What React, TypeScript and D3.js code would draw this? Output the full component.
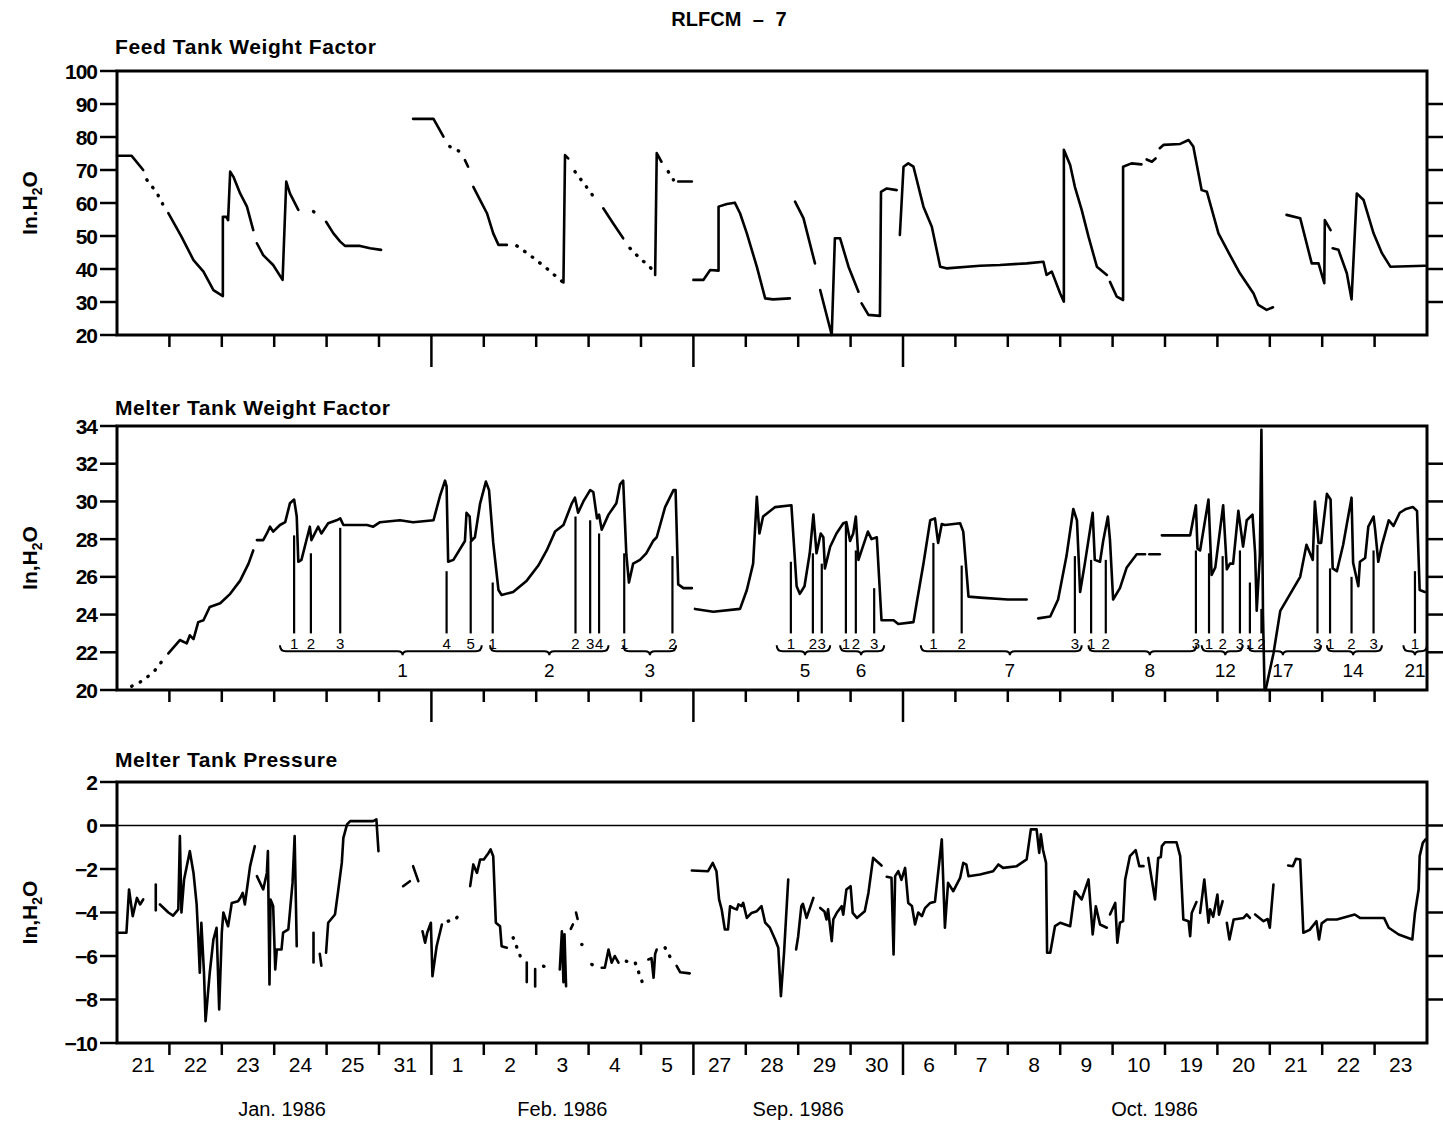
import React, { useEffect, useRef } from "react";
import * as d3 from "d3";

type Pt = [number, number];

const dayLabels = ["21", "22", "23", "24", "25", "31", "1", "2", "3", "4", "5", "27", "28", "29", "30", "6", "7", "8", "9", "10", "19", "20", "21", "22", "23"];
const monthLabels = ["Jan. 1986", "Feb. 1986", "Sep. 1986", "Oct. 1986"];
const monthCenters = [3.15, 8.5, 13.0, 19.8];
const monthBreaks = [6, 11, 15];

// Feed tank weight factor (in. H2O), x in day slots
const feedSolid: Pt[][] = [
  [[0, 74.3], [0.28, 74.3], [0.5, 70]],
  [[0.98, 56.9], [1.23, 49.8], [1.46, 42.7], [1.65, 39.2], [1.84, 33.6], [2.02, 31.8], [2.02, 55.8], [2.09, 55.8], [2.12, 54.8], [2.16, 69.5], [2.22, 68], [2.35, 62.9], [2.48, 58.9], [2.6, 51.8]],
  [[2.67, 47.8], [2.79, 44.2], [2.98, 41.2], [3.16, 36.7], [3.23, 66.5], [3.3, 62.9], [3.46, 57.9]],
  [[3.99, 54.3], [4.13, 50.8], [4.26, 48.3], [4.35, 47], [4.64, 47], [4.83, 46.3], [5.04, 45.8]],
  [[5.65, 85.5], [6.04, 85.5], [6.23, 80.1]],
  [[6.64, 73], [6.7, 71]],
  [[6.8, 64.9], [6.93, 60.9], [7.06, 56.9], [7.18, 50.8], [7.28, 47.3], [7.44, 47.3]],
  [[8.52, 35.9], [8.55, 74.5], [8.61, 73.5]],
  [[9.28, 58.4], [9.47, 53.8], [9.66, 49.3]],
  [[10.27, 38.2], [10.3, 75.1], [10.39, 72.5]],
  [[10.71, 66.5], [10.97, 66.5]],
  [[11.0, 36.7], [11.19, 36.7], [11.32, 39.7], [11.48, 39.5], [11.48, 58.9], [11.64, 59.7], [11.79, 60.1], [11.89, 56.9], [12.02, 50.8], [12.21, 40.7], [12.37, 31.1], [12.52, 30.8], [12.84, 31.1]],
  [[12.94, 60.4], [13.1, 55.4], [13.32, 41.7]],
  [[13.42, 33.6], [13.64, 20], [13.7, 49.3], [13.8, 49.3], [13.96, 40.7], [14.15, 33.1]],
  [[14.21, 29.6], [14.34, 26.1], [14.56, 25.8], [14.58, 63.4], [14.69, 64.4], [14.88, 63.9]],
  [[14.94, 50.3], [15.01, 71], [15.1, 72], [15.2, 71], [15.39, 58.9], [15.55, 52.8], [15.71, 40.7], [15.83, 40.2], [16.47, 41], [16.85, 41.2], [17.36, 41.7], [17.68, 42.2], [17.74, 38.2], [17.84, 39.2], [18.0, 32.6], [18.07, 30.1], [18.07, 76.1], [18.19, 71.5], [18.28, 64.9], [18.41, 57.9], [18.54, 49.8], [18.7, 40.7], [18.89, 38.2]],
  [[18.95, 36.1], [19.08, 31.6], [19.2, 30.6], [19.2, 71], [19.36, 72], [19.55, 71.7]],
  [[19.65, 73.2], [19.75, 72.5], [19.82, 73.5]],
  [[19.9, 76.6], [19.97, 77.6], [20.29, 77.9], [20.45, 79.1], [20.54, 77.1], [20.7, 63.9], [20.8, 63.4], [21.02, 50.8], [21.24, 44.2], [21.43, 38.7], [21.69, 32.6], [21.78, 29.1], [21.94, 27.6], [22.06, 28.4]],
  [[22.32, 56.4], [22.58, 55.4], [22.8, 41.7], [22.93, 41.7], [23.04, 35.7], [23.05, 54.8], [23.16, 51.8]],
  [[23.2, 46.3], [23.31, 45.8], [23.47, 38.7], [23.56, 30.8], [23.66, 62.9], [23.79, 60.9], [23.98, 50.8], [24.14, 44.8], [24.3, 40.7], [24.96, 41]],
];
const feedDotted: Pt[][] = [
  [[0.57, 67], [0.76, 63.1], [0.88, 59.4]],
  [[3.75, 57.4], [3.87, 56.1]],
  [[6.35, 77.1], [6.55, 75.5]],
  [[7.63, 47], [7.88, 44.2], [8.04, 42.2], [8.2, 40.2], [8.42, 37.2], [8.52, 35.9]],
  [[8.74, 69.5], [8.93, 65.5], [9.12, 61.4]],
  [[9.79, 46.3], [9.98, 43.2], [10.17, 40.7], [10.27, 38.2]],
  [[10.52, 69.5], [10.62, 67]],
];

// Melter tank weight factor
const melterSolid: Pt[][] = [
  [[0.98, 21.94], [1.2, 22.65], [1.33, 22.47], [1.39, 22.9], [1.46, 22.7], [1.55, 23.6], [1.65, 23.7], [1.77, 24.4], [1.97, 24.6], [2.16, 25.1], [2.35, 25.8], [2.51, 26.7], [2.6, 27.4]],
  [[2.67, 27.95], [2.79, 27.95], [2.86, 28.3], [2.92, 28.66], [2.98, 28.4], [3.11, 28.75], [3.21, 28.9], [3.3, 29.9], [3.38, 30.1], [3.43, 29.2], [3.46, 26.8], [3.52, 26.9], [3.68, 28.66], [3.71, 27.95], [3.84, 28.66], [3.9, 28.3], [4.03, 28.84], [4.19, 29.0], [4.26, 29.1], [4.32, 28.75], [4.77, 28.75], [4.89, 28.66], [5.02, 28.9], [5.4, 29.0], [5.65, 28.9], [6.04, 29.0], [6.16, 30.25], [6.26, 31.1], [6.29, 30.8], [6.32, 26.8], [6.42, 26.9], [6.64, 27.9], [6.67, 29.4], [6.73, 29.2], [6.76, 27.9], [6.83, 28.1], [6.93, 29.9], [7.04, 31.05], [7.1, 30.6], [7.18, 27.8], [7.28, 25.3], [7.34, 25.04], [7.56, 25.2], [7.82, 25.8], [8.04, 26.6], [8.2, 27.4], [8.36, 28.4], [8.52, 28.75], [8.68, 29.9], [8.74, 30.2], [8.8, 29.4], [8.9, 30.0], [9.03, 30.6], [9.09, 30.5], [9.16, 29.1], [9.2, 29.3], [9.25, 28.5], [9.38, 29.3], [9.53, 29.9], [9.6, 30.9], [9.66, 31.1], [9.72, 27.2], [9.77, 25.7], [9.85, 26.7], [9.98, 26.9], [10.1, 27.25], [10.23, 27.9], [10.3, 28.1], [10.46, 29.7], [10.62, 30.6], [10.66, 30.6], [10.71, 25.6], [10.81, 25.4], [10.97, 25.4]],
  [[11.03, 24.3], [11.38, 24.15], [11.89, 24.3], [12.02, 25.3], [12.14, 26.7], [12.21, 30.25], [12.26, 28.3], [12.33, 29.2], [12.56, 29.7], [12.87, 29.8], [12.97, 25.5], [13.03, 25.1], [13.12, 25.5], [13.22, 27.25], [13.29, 29.3], [13.35, 27.25], [13.43, 28.3], [13.48, 28.1], [13.51, 26.45], [13.61, 27.6], [13.73, 28.3], [13.86, 28.84], [13.92, 28.9], [13.99, 27.9], [14.05, 28.3], [14.1, 29.2], [14.15, 26.9], [14.21, 27.4], [14.33, 28.4], [14.4, 28.0], [14.5, 28.1], [14.59, 23.7], [14.82, 23.7], [14.91, 23.5], [15.2, 23.6], [15.26, 24.6], [15.39, 26.7], [15.52, 29.0], [15.61, 29.1], [15.67, 27.8], [15.74, 28.8], [15.8, 28.75], [16.09, 28.84], [16.15, 28.4], [16.25, 24.95], [16.47, 24.9], [17.0, 24.8], [17.36, 24.8]],
  [[17.58, 23.8], [17.81, 23.9], [17.96, 24.8], [18.12, 27.1], [18.25, 29.6], [18.32, 29.0], [18.38, 25.2], [18.47, 26.7], [18.62, 29.4], [18.66, 26.9], [18.76, 26.8], [18.82, 27.9], [18.91, 29.2], [18.95, 27.95], [19.01, 24.8], [19.14, 25.4], [19.27, 26.5], [19.46, 27.2], [19.62, 27.2]],
  [[19.7, 27.2], [19.9, 27.2]],
  [[19.94, 28.2], [20.48, 28.2], [20.59, 29.8], [20.62, 27.5], [20.67, 27.4], [20.83, 30.1], [20.89, 26.1], [20.96, 26.5], [21.11, 29.8], [21.16, 27.4], [21.18, 26.4], [21.24, 26.7], [21.3, 26.7], [21.4, 29.5], [21.49, 27.6], [21.56, 29.0], [21.67, 29.3], [21.72, 27.25], [21.75, 24.2], [21.81, 27.1], [21.84, 33.8], [21.87, 24.0], [21.9, 20.0]],
  [[21.92, 20.0], [22.07, 21.94], [22.2, 24.2], [22.39, 25.1], [22.58, 26.0], [22.7, 27.7], [22.82, 26.9], [22.86, 30.0], [22.93, 27.8], [22.98, 27.8], [23.09, 30.4], [23.16, 30.1], [23.2, 26.45], [23.28, 26.3], [23.4, 27.7], [23.56, 30.2], [23.59, 26.75], [23.69, 25.5], [23.72, 26.8], [23.82, 27.0], [23.88, 28.66], [23.98, 29.2], [24.01, 28.5], [24.07, 26.8], [24.14, 27.7], [24.27, 29.0], [24.36, 28.7], [24.48, 29.4], [24.6, 29.6], [24.73, 29.7], [24.81, 29.5], [24.86, 25.3], [24.96, 25.2]],
];
const melterDotted: Pt[][] = [
  [[0.28, 20.2], [0.5, 20.5], [0.73, 21.06], [0.88, 21.6]],
];

// addition markers: [day, top value, label]
const markers: [number, number, string][] = [
  [3.38, 28.2, "1"], [3.7, 27.25, "2"], [4.26, 28.6, "3"], [6.29, 26.3, "4"], [6.75, 27.9, "5"],
  [7.17, 25.7, "1"], [8.75, 29.2, "2"], [9.03, 29.0, "3"], [9.2, 28.3, "4"],
  [9.68, 27.25, "1"], [10.6, 27.1, "2"],
  [12.86, 26.8, "1"], [13.28, 27.25, "2"], [13.45, 26.7, "3"],
  [13.91, 28.9, "1"], [14.1, 27.4, "2"], [14.45, 25.4, "3"],
  [15.58, 27.8, "1"], [16.12, 26.6, "2"], [18.28, 27.1, "3"],
  [18.59, 26.9, "1"], [18.87, 26.9, "2"], [20.59, 27.4, "3"],
  [20.84, 27.25, "1"], [21.1, 27.1, "2"], [21.43, 27.4, "3"],
  [21.62, 25.7, "1"], [21.84, 24.3, "2"], [22.91, 27.7, "3"],
  [23.15, 26.45, "1"], [23.56, 26.0, "2"], [23.98, 27.4, "3"],
  [24.77, 26.3, "1"],
];
// groups: [from, to, middle, label]
const groups: [number, number, number, string][] = [
  [3.11, 6.96, 5.45, "1"], [7.12, 9.38, 8.25, "2"], [9.66, 10.67, 10.17, "3"],
  [12.59, 13.61, 13.13, "5"], [13.8, 14.64, 14.2, "6"], [15.34, 18.41, 17.04, "7"],
  [18.54, 20.6, 19.71, "8"], [20.7, 21.48, 21.15, "12"], [21.59, 22.98, 22.25, "17"],
  [23.09, 24.14, 23.59, "14"], [24.55, 25.0, 24.77, "21"],
];

// Melter tank pressure
const pressureSolid: Pt[][] = [
  [[0, -4.93], [0.18, -4.93], [0.23, -2.94], [0.3, -4.17], [0.38, -3.33], [0.44, -3.63], [0.5, -3.4]],
  [[0.74, -2.71], [0.74, -3.9]],
  [[0.82, -3.63], [0.98, -4.0], [1.07, -4.14], [1.17, -3.86], [1.2, -0.49], [1.23, -4.0], [1.28, -2.48], [1.39, -1.18], [1.46, -2.18], [1.52, -3.63], [1.55, -5.09], [1.58, -6.77], [1.61, -4.47], [1.66, -6.77], [1.69, -9.0], [1.77, -6.77], [1.84, -5.24], [1.9, -4.7], [1.95, -8.46], [2.0, -4.93], [2.03, -4.0], [2.12, -4.63], [2.19, -3.56], [2.31, -3.48], [2.36, -3.3], [2.4, -3.1], [2.44, -3.63], [2.54, -1.87], [2.63, -0.95]],
  [[2.67, -2.33], [2.79, -2.94], [2.86, -2.18], [2.88, -1.18], [2.91, -7.31], [2.93, -3.4], [2.98, -3.7], [3.02, -6.62], [3.05, -5.7], [3.14, -5.7], [3.17, -4.93], [3.27, -4.78], [3.35, -2.64], [3.39, -0.49], [3.43, -5.55]],
  [[3.75, -4.93], [3.75, -6.3]],
  [[3.87, -5.9], [3.9, -6.45]],
  [[3.99, -5.85], [4.03, -4.47], [4.16, -4.09], [4.22, -3.02], [4.29, -1.72], [4.32, -0.57], [4.39, 0.05], [4.45, 0.2], [4.89, 0.2], [4.95, 0.28], [4.99, -1.18]],
  [[5.46, -2.79], [5.59, -2.56]],
  [[5.65, -1.87], [5.75, -2.56]],
  [[5.83, -4.86], [5.88, -5.39], [5.92, -4.93], [5.99, -4.47], [6.02, -6.93], [6.1, -5.55], [6.2, -4.55]],
  [[6.74, -2.79], [6.8, -1.79], [6.87, -2.18], [6.93, -1.56], [7.0, -1.56], [7.09, -1.26], [7.13, -1.1], [7.18, -1.41], [7.23, -4.47], [7.31, -4.63], [7.34, -5.55], [7.44, -5.62]],
  [[7.82, -6.3], [7.82, -7.2]],
  [[7.98, -6.6], [7.98, -7.4]],
  [[8.45, -6.62], [8.49, -4.86], [8.52, -7.2], [8.54, -5.0], [8.57, -7.39]],
  [[8.66, -4.75], [8.7, -4.55]],
  [[8.76, -4.0], [8.79, -4.3]],
  [[9.25, -6.54], [9.31, -6.54], [9.38, -5.7], [9.44, -6.31], [9.5, -6.0], [9.57, -6.31]],
  [[10.14, -6.16], [10.2, -6.1], [10.24, -7.0], [10.27, -5.9], [10.3, -5.7]],
  [[10.68, -6.45], [10.75, -6.75], [10.93, -6.8]],
  [[10.97, -2.07], [11.28, -2.1], [11.37, -1.72], [11.44, -2.1], [11.49, -3.4], [11.54, -3.86], [11.6, -4.78], [11.66, -4.78], [11.7, -3.71], [11.76, -3.8], [11.83, -3.86], [11.86, -3.63], [11.92, -3.71], [11.95, -3.56], [12.02, -4.25], [12.11, -4.02], [12.21, -3.94], [12.3, -3.71], [12.37, -4.47], [12.46, -4.7], [12.56, -5.24], [12.62, -5.62], [12.67, -7.85], [12.73, -5.85], [12.81, -2.48]],
  [[12.96, -5.7], [13.0, -5.09], [13.06, -3.71], [13.09, -3.6], [13.16, -4.25], [13.29, -3.33]],
  [[13.42, -3.79], [13.5, -3.95], [13.54, -4.32], [13.57, -3.85], [13.64, -5.32], [13.67, -4.32], [13.74, -4.0], [13.83, -3.71], [13.86, -4.1], [13.92, -2.94], [14.0, -2.79], [14.04, -4.02], [14.12, -4.25], [14.27, -3.94], [14.34, -3.1], [14.43, -1.49], [14.5, -1.64], [14.59, -1.84]],
  [[14.69, -2.36], [14.78, -2.4], [14.82, -5.93], [14.85, -2.33], [14.91, -2.1], [14.97, -2.5], [15.04, -1.95], [15.1, -3.56], [15.17, -3.7], [15.23, -4.55], [15.29, -4.0], [15.36, -4.17], [15.42, -3.8], [15.52, -3.56], [15.61, -3.5], [15.74, -0.64], [15.8, -4.7], [15.86, -2.64], [15.96, -3.02], [16.09, -2.41], [16.15, -1.72], [16.21, -1.8], [16.25, -2.33], [16.47, -2.25], [16.72, -2.1], [16.82, -1.79], [16.91, -1.95], [17.17, -1.87], [17.36, -1.56], [17.44, -0.18], [17.55, -0.18], [17.6, -1.26], [17.63, -0.4], [17.67, -1.1], [17.73, -1.72], [17.75, -5.85], [17.81, -5.85], [17.9, -4.63], [18.0, -4.47], [18.19, -4.63], [18.28, -3.02], [18.41, -3.4], [18.54, -2.48], [18.62, -5.01], [18.68, -3.71], [18.76, -4.55], [18.89, -4.7]],
  [[18.95, -4.09], [19.05, -3.56], [19.09, -5.39], [19.14, -4.47], [19.2, -4.4], [19.24, -2.48], [19.33, -1.41], [19.44, -1.13], [19.51, -1.87], [19.59, -1.87]],
  [[19.68, -1.49], [19.81, -3.4], [19.87, -1.49], [19.92, -1.45], [19.94, -0.95], [20.0, -0.77], [20.22, -0.77], [20.29, -1.41], [20.35, -4.32], [20.45, -4.4], [20.48, -5.09], [20.51, -4.02], [20.6, -3.52]],
  [[20.67, -4.02], [20.75, -2.48], [20.83, -4.47], [20.86, -3.85], [20.92, -4.2], [21.0, -3.17], [21.03, -4.1], [21.1, -3.48]],
  [[21.18, -4.47], [21.23, -5.24], [21.31, -4.32], [21.5, -4.25], [21.56, -4.09], [21.62, -4.25]],
  [[21.72, -4.09], [21.88, -4.4], [21.96, -4.3], [22.0, -4.7], [22.07, -2.71]],
  [[22.35, -1.84], [22.44, -1.87], [22.5, -1.53], [22.58, -1.56], [22.64, -4.93], [22.76, -4.8], [22.89, -4.4], [22.94, -5.24], [22.99, -4.5], [23.09, -4.32], [23.28, -4.32], [23.62, -4.09], [23.72, -4.25], [24.18, -4.25], [24.27, -4.7], [24.46, -5.01], [24.72, -5.24], [24.77, -4.02], [24.84, -2.94], [24.86, -1.41], [24.92, -0.8], [24.97, -0.64]],
];
const pressureDotted: Pt[][] = [
  [[6.32, -4.4], [6.45, -4.32], [6.58, -4.0]],
  [[7.56, -5.16], [7.72, -6.16]],
  [[8.14, -6.47], [8.3, -6.54]],
  [[8.87, -5.47]],
  [[9.06, -6.39], [9.22, -6.54]],
  [[9.72, -6.24], [9.89, -6.31], [10.04, -7.31]],
  [[10.46, -5.62], [10.58, -6.16]],
];

const FONT = "'Liberation Sans', Arial, Helvetica, sans-serif";

export default function App() {
  const ref = useRef<SVGSVGElement>(null);

  useEffect(() => {
    const svg = d3.select(ref.current);
    svg.selectAll("*").remove();

    const x = d3.scaleLinear().domain([0, 25]).range([117, 1427]);
    const left = x(0), right = x(25);

    const panels = [
      { title: "Feed Tank Weight Factor", sep: ".", domain: [20, 100], range: [335, 71], step: 10, solid: feedSolid, dotted: feedDotted, titleY: 54 },
      { title: "Melter Tank Weight Factor", sep: ",", domain: [20, 34], range: [690, 426], step: 2, solid: melterSolid, dotted: melterDotted, titleY: 415 },
      { title: "Melter Tank Pressure", sep: ",", domain: [-10, 2], range: [1043, 782], step: 2, solid: pressureSolid, dotted: pressureDotted, titleY: 767 },
    ];

    svg.append("text")
      .attr("x", 729).attr("y", 26)
      .attr("text-anchor", "middle")
      .attr("font-family", FONT).attr("font-weight", "bold").attr("font-size", 20)
      .attr("word-spacing", 6)
      .text("RLFCM \u2013 7");

    panels.forEach((p, pi) => {
      const y = d3.scaleLinear().domain(p.domain).range(p.range);
      const g = svg.append("g");
      const top = p.range[1], bottom = p.range[0];

      g.append("text")
        .attr("x", 115).attr("y", p.titleY)
        .attr("font-family", FONT).attr("font-weight", "bold").attr("font-size", 21)
        .attr("letter-spacing", 0.6)
        .text(p.title);

      // y title
      const yt = g.append("text")
        .attr("transform", `translate(37, ${(top + bottom) / 2}) rotate(-90)`)
        .attr("text-anchor", "middle")
        .attr("font-family", FONT).attr("font-weight", "bold").attr("font-size", 21);
      yt.append("tspan").text(`In${p.sep}H`);
      yt.append("tspan").attr("font-size", 14).attr("dy", 5).text("2");
      yt.append("tspan").attr("dy", -5).text("O");

      // zero line for pressure
      if (pi === 2) {
        g.append("line")
          .attr("x1", left).attr("x2", right)
          .attr("y1", y(0)).attr("y2", y(0))
          .attr("stroke", "#000").attr("stroke-width", 1.6);
      }

      // frame
      g.append("rect")
        .attr("x", left).attr("y", top)
        .attr("width", right - left).attr("height", bottom - top)
        .attr("fill", "none").attr("stroke", "#000").attr("stroke-width", 3);

      const ticks = d3.range(p.domain[0], p.domain[1] + 0.001, p.step);
      g.selectAll(".ltick").data(ticks).join("line")
        .attr("x1", left - 17).attr("x2", left)
        .attr("y1", (d) => y(d)).attr("y2", (d) => y(d))
        .attr("stroke", "#000").attr("stroke-width", 2.5);
      g.selectAll(".rtick").data(ticks.slice(1, -1)).join("line")
        .attr("x1", right).attr("x2", right + 16)
        .attr("y1", (d) => y(d)).attr("y2", (d) => y(d))
        .attr("stroke", "#000").attr("stroke-width", 2.5);
      g.selectAll(".tlabel").data(ticks).join("text")
        .attr("x", 97).attr("y", (d) => y(d)).attr("dy", "0.36em")
        .attr("text-anchor", "end")
        .attr("font-family", FONT).attr("font-weight", "bold").attr("font-size", 21)
        .attr("letter-spacing", -1)
        .text((d) => (d < 0 ? "\u2212" + Math.abs(d) : String(d)));

      // bottom ticks
      const xt = d3.range(1, 25);
      g.selectAll(".xtick").data(xt).join("line")
        .attr("x1", (d) => x(d)).attr("x2", (d) => x(d))
        .attr("y1", bottom).attr("y2", (d) => bottom + (monthBreaks.includes(d) ? 32 : 12))
        .attr("stroke", "#000").attr("stroke-width", 2.5);

      const line = d3.line<Pt>().x((d) => x(d[0])).y((d) => y(d[1]));
      g.selectAll(".solid").data(p.solid).join("path")
        .attr("d", (d) => line(d))
        .attr("fill", "none").attr("stroke", "#000").attr("stroke-width", 2.6)
        .attr("stroke-linejoin", "round").attr("stroke-linecap", "round");
      g.selectAll(".dotted").data(p.dotted).join("path")
        .attr("d", (d) => (d.length === 1 ? `M${x(d[0][0])},${y(d[0][1])}l0.1,0` : line(d)))
        .attr("fill", "none").attr("stroke", "#000").attr("stroke-width", 3.4)
        .attr("stroke-dasharray", "0.5 9").attr("stroke-linecap", "round");

      if (pi === 1) {
        const base = y(23.0);
        g.selectAll(".marker").data(markers).join("line")
          .attr("x1", (d) => x(d[0])).attr("x2", (d) => x(d[0]))
          .attr("y1", (d) => y(d[1])).attr("y2", base)
          .attr("stroke", "#000").attr("stroke-width", 2.2);
        g.selectAll(".mlabel").data(markers).join("text")
          .attr("x", (d) => x(d[0])).attr("y", base + 16)
          .attr("text-anchor", "middle")
          .attr("font-family", FONT).attr("font-size", 15)
          .text((d) => d[2]);
        const by = y(22.05);
        g.selectAll(".brace").data(groups).join("path")
          .attr("d", (d) => {
            const a = x(d[0]), b = Math.min(x(d[1]), right), m = x(d[2]);
            return `M${a},${by - 6} Q${a},${by} ${a + 6},${by} L${m - 5},${by} Q${m},${by} ${m},${by + 4} Q${m},${by} ${m + 5},${by} L${b - 6},${by} Q${b},${by} ${b},${by - 6}`;
          })
          .attr("fill", "none").attr("stroke", "#000").attr("stroke-width", 2);
        g.selectAll(".glabel").data(groups).join("text")
          .attr("x", (d) => x(d[2])).attr("y", by + 26)
          .attr("text-anchor", "middle")
          .attr("font-family", FONT).attr("font-size", 19)
          .text((d) => d[3]);
      }

      if (pi === 2) {
        g.selectAll(".dlabel").data(dayLabels).join("text")
          .attr("x", (d, i) => x(i + 0.5)).attr("y", bottom + 29)
          .attr("text-anchor", "middle")
          .attr("font-family", FONT).attr("font-size", 21)
          .text((d) => d);
        g.selectAll(".mon").data(monthLabels).join("text")
          .attr("x", (d, i) => x(monthCenters[i])).attr("y", 1116)
          .attr("text-anchor", "middle")
          .attr("font-family", FONT).attr("font-size", 20)
          .text((d) => d);
      }
    });
  }, []);

  return (
    <svg
      ref={ref}
      width={1443}
      height={1124}
      style={{ position: "absolute", left: 0, top: 0, background: "#fff" }}
    />
  );
}
